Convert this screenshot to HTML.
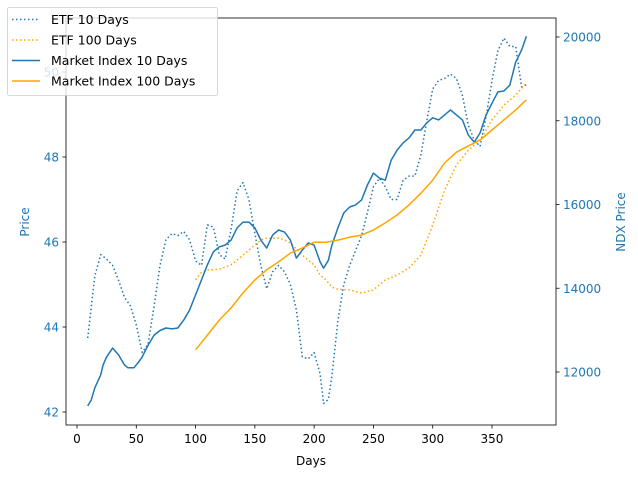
<!DOCTYPE html>
<html><head><meta charset="utf-8"><style>
body{margin:0;background:#fff;}
svg{display:block;font-family:"DejaVu Sans","Liberation Sans",sans-serif;}
</style></head><body>
<svg id="chart" width="638" height="478" xmlns="http://www.w3.org/2000/svg"></svg>
<script>
const etf10Days=[9,15,20,25,30,35,40,45,50,55,60,65,70,75,80,85,90,95,100,105,110,115,120,125,130,135,140,145,150,155,160,165,170,175,180,185,190,195,200,205,208,212,215,220,225,230,235,240,245,250,255,260,265,270,275,280,285,290,295,300,305,310,315,320,325,330,335,340,345,350,355,360,365,370,375,379];
const etf10Vals=[43.74,45.2,45.7,45.6,45.45,45.1,44.7,44.5,44.05,43.4,43.6,44.5,45.45,46.05,46.2,46.15,46.25,46.05,45.55,45.45,46.4,46.35,45.7,45.6,46.3,47.2,47.4,47.0,46.2,45.45,44.9,45.3,45.45,45.3,45.0,44.4,43.3,43.25,43.4,42.9,42.2,42.3,42.85,44.15,45.0,45.45,45.8,46.15,46.7,47.3,47.5,47.3,47.0,47.0,47.45,47.55,47.55,48.05,48.85,49.6,49.8,49.85,49.95,49.85,49.45,48.75,48.4,48.25,48.95,49.8,50.5,50.8,50.6,50.6,49.65,49.7];
const etf100Days=[100,105,110,120,130,140,150,155,160,170,175,180,190,200,205,210,215,220,230,240,250,255,260,270,280,290,300,310,320,330,340,350,360,370,379];
const etf100Vals=[45.11,45.29,45.34,45.36,45.46,45.69,45.93,46.05,46.09,46.09,46.05,45.98,45.69,45.46,45.22,45.11,44.94,44.89,44.87,44.80,44.87,44.99,45.11,45.22,45.39,45.69,46.40,47.22,47.81,48.16,48.40,48.87,49.22,49.46,49.74];
const mi10Days=[9,12,15,20,22,25,30,35,40,43,48,52,55,60,65,70,75,80,85,90,95,100,105,110,115,120,125,130,135,140,145,150,155,160,165,170,175,180,185,190,195,200,205,208,212,215,220,225,230,235,240,245,250,255,260,265,270,275,280,285,290,295,300,305,310,315,320,325,330,335,340,345,350,355,360,365,370,375,379];
const mi10Vals=[11190,11330,11620,11930,12170,12360,12570,12410,12170,12100,12100,12240,12360,12640,12880,12990,13050,13030,13050,13240,13480,13840,14200,14560,14870,14990,15030,15150,15440,15580,15580,15440,15150,14960,15270,15390,15340,15150,14720,14910,15080,15030,14630,14480,14670,15030,15440,15800,15940,15990,16110,16470,16750,16630,16580,17060,17300,17470,17590,17780,17780,17950,18070,18020,18140,18260,18140,18020,17660,17490,17710,18140,18420,18690,18710,18850,19400,19690,20020];
const mi100Days=[100,110,120,130,140,150,160,170,180,190,200,210,220,230,240,250,260,270,280,290,300,310,320,330,340,350,360,370,379];
const mi100Vals=[12530,12880,13240,13530,13890,14200,14440,14630,14840,14960,15100,15100,15150,15220,15270,15390,15560,15750,15990,16270,16580,16990,17250,17400,17540,17780,18020,18260,18500];
const xTicks=[0,50,100,150,200,250,300,350];
const leftTicks=[42,44,46,48,50];
const rightTicks=[12000,14000,16000,18000,20000];

const L=66,R=556,T=18,B=425;
const xs=d=>77+d*1.1857;
const yl=v=>412-(v-42)*42.5;
const yr=v=>372-(v-12000)/2000*83.75;
const svg=document.getElementById('chart');
const NS='http://www.w3.org/2000/svg';
function mk(tag,attrs,parent){const e=document.createElementNS(NS,tag);for(const k in attrs)e.setAttribute(k,attrs[k]);(parent||svg).appendChild(e);return e;}
const blue='#1f77b4',orange='#ffa500';
const clip=mk('clipPath',{id:'pc'});mk('rect',{x:L,y:T,width:R-L,height:B-T},clip);
function line(days,vals,ys,color,dash,name){
  const p=mk('polyline',{points:days.map((d,i)=>xs(d).toFixed(1)+','+ys(vals[i]).toFixed(1)).join(' '),fill:'none',stroke:color,'stroke-width':1.5,'stroke-dasharray':dash||'none','stroke-linejoin':'round','clip-path':'url(#pc)'});
  
  
}
line(etf10Days,etf10Vals,yl,blue,'1.5,2.5','etf-10-days-line');
line(etf100Days,etf100Vals,yl,orange,'1.5,2.5','etf-100-days-line');
line(mi10Days,mi10Vals,yr,blue,null,'market-index-10-days-line');
line(mi100Days,mi100Vals,yr,orange,null,'market-index-100-days-line');
const frame=mk('rect',{x:L,y:T,width:R-L,height:B-T,fill:'none',stroke:'#000','stroke-width':0.8});


xTicks.forEach(t=>{const x=xs(t);mk('line',{x1:x,x2:x,y1:B,y2:B+3.5,stroke:'#000','stroke-width':0.8});
  const tx=mk('text',{x:x,y:B+18,'text-anchor':'middle','font-size':12,fill:'#000'});tx.textContent=t;
  
  });
leftTicks.forEach(t=>{const y=yl(t);mk('line',{x1:L,x2:L-3.5,y1:y,y2:y,stroke:'#000','stroke-width':0.8});
  const tx=mk('text',{x:L-7,y:y+4.5,'text-anchor':'end','font-size':12,fill:blue});tx.textContent=t;
  
  });
rightTicks.forEach(t=>{const y=yr(t);mk('line',{x1:R,x2:R+3.5,y1:y,y2:y,stroke:'#000','stroke-width':0.8});
  const tx=mk('text',{x:R+7,y:y+4.5,'text-anchor':'start','font-size':12,fill:blue});tx.textContent=t;
  
  });
const xt=mk('text',{x:(L+R)/2,y:465,'text-anchor':'middle','font-size':12});xt.textContent='Days';


const yt=mk('text',{x:0,y:0,'text-anchor':'middle','font-size':12,fill:blue,transform:'translate(29,222) rotate(-90)'});yt.textContent='Price';


const yt2=mk('text',{x:0,y:0,'text-anchor':'middle','font-size':12,fill:blue,transform:'translate(625,222) rotate(-90)'});yt2.textContent='NDX Price';


const lg=mk('g',{});


mk('rect',{x:7.5,y:7.5,width:210,height:88,rx:2,fill:'#fff','fill-opacity':0.8,stroke:'#ccc','stroke-width':0.8},lg);
[['ETF 10 Days',blue,'1.5,2.5'],['ETF 100 Days',orange,'1.5,2.5'],['Market Index 10 Days',blue,null],['Market Index 100 Days',orange,null]].forEach((e,i)=>{
  const y=19.5+i*20.5;
  const g=mk('g',{},lg);
  
  
  mk('line',{x1:12,x2:40,y1:y,y2:y,stroke:e[1],'stroke-width':1.5,'stroke-dasharray':e[2]||'none'},g);
  const t=mk('text',{x:51,y:y+4.5,'font-size':12.5},g);t.textContent=e[0];
});
</script>
</body></html>
